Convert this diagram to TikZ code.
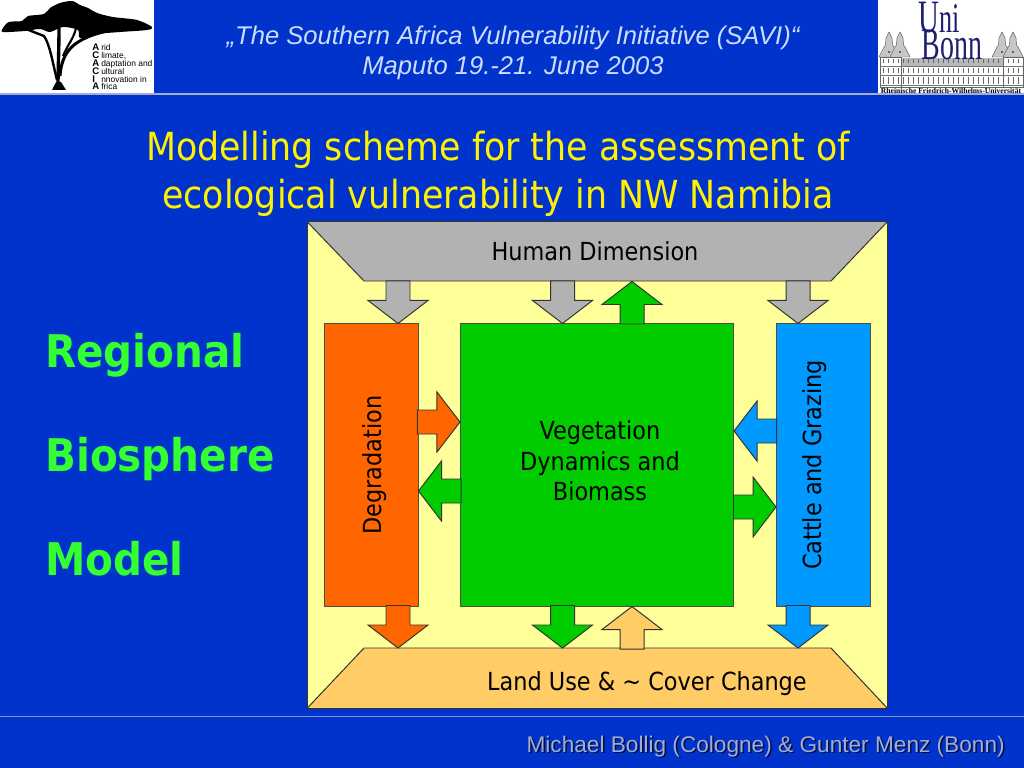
\documentclass[tikz,border=0pt]{standalone}
\usepackage{fontspec}
\setmainfont{DejaVu Sans Condensed}
\newfontfamily\arialfont{Liberation Sans}
\newfontfamily\bonnfont{Liberation Serif}
\definecolor{slideblue}{HTML}{0033CC}
\definecolor{panelyellow}{HTML}{FFFF99}
\definecolor{humangray}{HTML}{B2B2B2}
\definecolor{landsand}{HTML}{FFCC66}
\definecolor{degradorange}{HTML}{FF6600}
\definecolor{vegetgreen}{HTML}{00CC00}
\definecolor{cattleblue}{HTML}{0099FF}
\definecolor{headgreen}{HTML}{33FF33}
\definecolor{footgray}{HTML}{A3ADCF}
\definecolor{meetingblue}{HTML}{CCDDFF}
\definecolor{bonnblue}{HTML}{1F1F70}
\tikzset{
	field/.style={draw=black!70, line width=0.7pt, minimum width=2.35cm, minimum height=7.05cm, inner sep=0pt},
	edge/.style={draw=black!80, line width=0.7pt, line join=miter},
	label/.style={inner sep=0pt, text=black, align=center, font=\fontsize{17.7}{22}\selectfont},
	sidehead/.style={inner sep=0pt, anchor=base west, text=headgreen, font=\fontsize{32}{34}\selectfont\bfseries},
	acaline/.style={inner sep=0pt, anchor=base west, font=\arialfont\fontsize{6}{6}\selectfont},
	bonnline/.style={inner sep=0pt, anchor=base, text=bonnblue, xscale=0.62},
}
% block arrow, tip on the given point
\newcommand{\blockarrow}[3]{
	\draw[edge, fill=#1, shift={#2}, rotate=#3] (0,0) -- (-23,-30) -- (-23,-12) -- (-42.5,-12) -- (-42.5,12) -- (-23,12) -- (-23,30) -- cycle;
}
\begin{document}
\begin{tikzpicture}[x=0.025cm, y=-0.025cm]
	\useasboundingbox (0,0) rectangle (1024,768);
	\fill [color=slideblue] (0,0) rectangle (1024,768);
	\fill [color=footgray] (0,93) rectangle (1024,95);
	\fill [color=footgray!80!slideblue] (0,716) rectangle (1024,717);

	% logo left
	\fill [color=white] (0,0) rectangle (154,93);
	\fill [color=black] plot [smooth cycle, tension=0.5] coordinates {(3,28) (9,22) (22,21) (28,16) (44,14) (50,8) (60,3) (72,1) (80,5) (88,8) (97,13) (113,17) (137,20) (152,27) (147,30) (120,32) (97,34) (80,38) (78,30) (63,27) (50,32) (40,29) (25,31) (3,32)};
	\draw [color=black, line width=2.4pt] (58,86) .. controls (58,70) and (59,50) .. (59,28);
	\draw [color=black, line width=1.7pt] (57,80) .. controls (52,60) and (50,45) .. (44,36) -- (26,29);
	\draw [color=black, line width=2.1pt] (60,76) .. controls (62,52) and (72,38) .. (112,30);
	\draw [color=black, line width=1.5pt] (63,56) .. controls (68,44) and (74,38) .. (76,28);
	\fill [color=black] (52,90) -- (56,82) -- (61,82) -- (66,90) -- cycle;
	\foreach \y/\capi/\rest in {50.5/A/rid, 58.5/C/{limate,}, 66.5/A/daptation and, 74.5/C/ultural, 82.5/I/nnovation in, 90/A/frica} {
		\node [acaline, font=\arialfont\bfseries\fontsize{6.8}{6}\selectfont] at (92,\y) {\capi};
		\node [acaline] at (101,\y) {\rest};
	}

	% logo right
	\fill [color=white] (878,0) rectangle (1024,93);
	\fill [color=black!28] (901,58) rectangle (1003,66);
	\foreach \x in {889,900,1002,1013}
		\filldraw [draw=black!70, fill=black!22, line width=0.3pt] (\x,32) -- (\x+3,38) -- (\x+3.5,45) -- (\x+5,47) -- (\x+10,57) -- (\x-10,57) -- (\x-5,47) -- (\x-3.5,45) -- (\x-3,38) -- cycle;
	\foreach \x in {889,900,1002,1013}
		\fill [color=black] (\x,52) circle (0.9);
	\filldraw [draw=black!60, fill=white, line width=0.3pt] (880,57) rectangle (901,87) (1003,57) rectangle (1023,87);
	\filldraw [draw=black!60, fill=white, line width=0.3pt] (901,66) rectangle (1003,87);
	\draw [color=black!55, line width=0.3pt] (880,66) -- (1023,66) (880,75) -- (1023,75) (880,85) -- (1023,85);
	\foreach \y/\h in {59/4, 68/5, 77/7}
		\foreach \x in {883,888,...,1021}
			\draw [color=black!60, line width=0.4pt] (\x,\y) -- (\x,\y+\h);
	\node [bonnline] (unilabel) at (939,33) {\bonnfont\fontsize{33}{33}\selectfont U\fontsize{30}{30}\selectfont ni};
	\node [bonnline] (bonnlabel) at (952,60) {\bonnfont\fontsize{32}{32}\selectfont Bonn};
	\node [inner sep=0pt, text=black, font=\bonnfont\bfseries\fontsize{5.4}{5}\selectfont] (unilong) at (951,90.5) {Rheinische Friedrich-Wilhelms-Universität};

	% texts of the slide
	\node [inner sep=0pt, align=center, text=meetingblue, font=\arialfont\itshape\fontsize{18.2}{21.3}\selectfont] (meeting) at (513,52.5) {„The Southern Africa Vulnerability Initiative (SAVI)“\\Maputo 19.-21. June 2003};
	\node [inner sep=0pt, align=center, text=yellow, font=\fontsize{27.5}{34}\selectfont] (title) at (498,174) {Modelling scheme for the assessment of\\ecological vulnerability in NW Namibia};
	\node [sidehead] (regional) at (45,367) {Regional};
	\node [sidehead] (biosphere) at (45,471) {Biosphere};
	\node [sidehead] (model) at (45,575) {Model};
	\node [inner sep=0pt, text=black!70!slideblue, anchor=east, font=\arialfont\fontsize{16.1}{18}\selectfont] (authorsdrop) at (1006.5,748) {Michael Bollig (Cologne) \& Gunter Menz (Bonn)};
	\node [inner sep=0pt, text=footgray, anchor=east, font=\arialfont\fontsize{16.1}{18}\selectfont] (authors) at (1005,746.5) {Michael Bollig (Cologne) \& Gunter Menz (Bonn)};

	% scheme
	\node [draw=black!80, fill=panelyellow, line width=0.7pt, inner sep=0pt, minimum width=14.49cm, minimum height=12.15cm] (panel) at (597.25,465) {};
	\draw [edge, fill=humangray] (panel.north west) -- (panel.north east) -- (831,281) -- (364,281) -- cycle;
	\draw [edge, fill=landsand] (panel.south west) -- (panel.south east) -- (831,648) -- (364,648) -- cycle;
	\node [label] (human) at (595,251.5) {Human Dimension};
	\node [label] (land) at (647,684) {Land Use \& {\char`\~} Cover Change};

	\node [field, fill=degradorange] (degrad) at (371,465) {};
	\node [field, fill=vegetgreen, minimum width=6.825cm] (veget) at (597,465) {};
	\node [field, fill=cattleblue] (cattle) at (823.5,465) {};
	\node [label, rotate=90] (degradlabel) at (375,465) {Degradation};
	\node [label, rotate=90] (cattlelabel) at (815,465) {Cattle and Grazing};
	\node [label, font=\fontsize{17.7}{21.6}\selectfont] (vegetlabel) at (600,461) {Vegetation\\Dynamics and\\Biomass};

	\blockarrow{humangray}{(398,0 |- degrad.north)}{-90}
	\blockarrow{humangray}{(562.5,0 |- veget.north)}{-90}
	\blockarrow{humangray}{(798,0 |- cattle.north)}{-90}
	\blockarrow{vegetgreen}{(632,281.5)}{90}
	\blockarrow{degradorange}{(veget.west |- 0,422)}{0}
	\blockarrow{vegetgreen}{(degrad.east |- 0,491)}{180}
	\blockarrow{cattleblue}{(veget.east |- 0,431)}{180}
	\blockarrow{vegetgreen}{(cattle.west |- 0,507)}{0}
	\blockarrow{degradorange}{(398,648)}{-90}
	\blockarrow{vegetgreen}{(562.5,648)}{-90}
	\blockarrow{landsand}{(632,0 |- veget.south)}{90}
	\blockarrow{cattleblue}{(798,648)}{-90}
\end{tikzpicture}
\end{document}
